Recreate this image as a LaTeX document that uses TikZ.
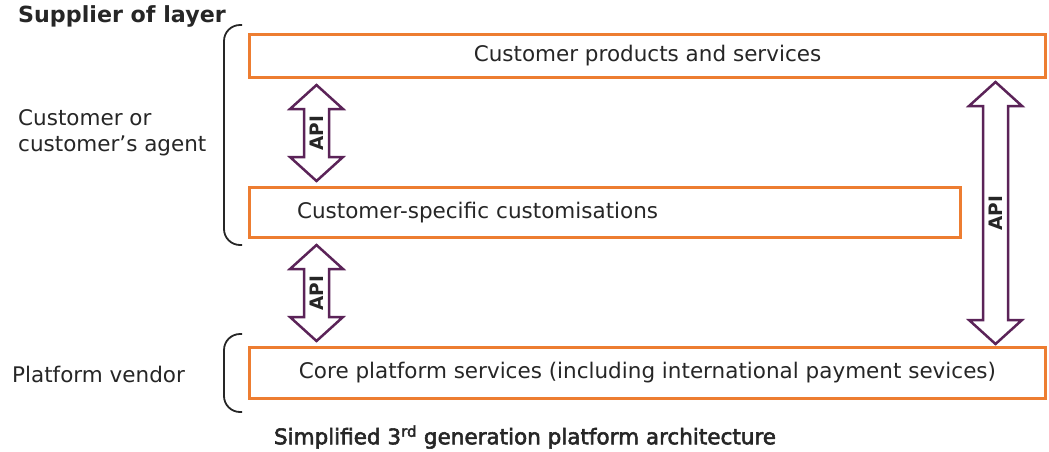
\documentclass[tikz,border=0pt]{standalone}
\usepackage{fontspec}
\setmainfont{DejaVu Sans}
\newfontfamily\semibfont[FakeBold=2.5]{DejaVu Sans}
\usetikzlibrary{calc}
\definecolor{boxorange}{RGB}{237,125,49}
\definecolor{apipurple}{RGB}{91,35,88}
\definecolor{txtgray}{RGB}{38,38,38}
\newcommand{\bodyfont}{\fontsize{21.5}{26}\selectfont}
\tikzset{
  layerbox/.style={draw=boxorange, line width=3pt, inner sep=0pt, minimum width=796pt},
  apiarrow/.style={draw=apipurple, line width=2.5pt, line join=miter, fill=white},
  apilabel/.style={rotate=90, font=\fontsize{18.5}{20}\selectfont\bfseries, text=txtgray},
  bracket/.style={draw=txtgray, line width=1.8pt, rounded corners=16pt},
  sidetext/.style={anchor=west, inner sep=0pt, align=left},
}
% 双向箭头 #1 上端, #2 下端
\newcommand{\drawapi}[2]{%
  \draw[apiarrow] (#1) -- ++(26.5,-24) -- ++(-14,0) -- ($(#2)+(12.5,24)$) -- ++(14,0)
    -- (#2) -- ++(-26.5,24) -- ++(14,0) -- ($(#1)+(-12.5,-24)$) -- ++(-14,0) -- cycle;
  \path (#1) -- (#2) node[midway, apilabel] {API};
}

\begin{document}
\begin{tikzpicture}[x=1pt, y=1pt, font=\bodyfont, text=txtgray]
    \useasboundingbox (0,0) rectangle (1049,-451);

    % 各层
    \node[layerbox, minimum height=43pt] (cps) at (647.5,-56) {Customer products and services};
    \node[layerbox, minimum width=711pt, minimum height=50pt, text width=616pt, align=left] (ccs) at (605,-212.5) {Customer-specific customisations};
    \node[layerbox, minimum height=51pt] (core) at (647.5,-373) {Core platform services (including international payment sevices)};

    % API 箭头
    \coordinate (a1t) at ($(cps.south west)+(68.5,-6)$);
    \coordinate (a1b) at ($(ccs.north west)+(68.5,5)$);
    \coordinate (a2t) at ($(ccs.south west)+(68.5,-6)$);
    \coordinate (a2b) at ($(core.north west)+(68.5,5)$);
    \coordinate (a3t) at ($(cps.south east)+(-51.5,-3)$);
    \coordinate (a3b) at ($(core.north east)+(-51.5,2)$);
    \drawapi{a1t}{a1b}
    \drawapi{a2t}{a2b}
    \drawapi{a3t}{a3b}

    % 左侧括号
    \draw[bracket] (242,-25) -| (224,-135) |- (242,-245);
    \draw[bracket] (242,-334) -| (224,-372) |- (242,-412);

    % 文字
    \node[sidetext, font=\fontsize{22.2}{26}\selectfont\bfseries] (supplier) at (18,-16) {Supplier of layer};
    \node[sidetext] (agent) at (18,-133) {Customer or\\customer’s agent};
    \node[sidetext] (vendor) at (12,-374) {Platform vendor};
    \node[inner sep=0pt, font=\semibfont\fontsize{21.5}{26}\selectfont] (caption) at (525,-437) {Simplified 3\textsuperscript{rd} generation platform architecture};
\end{tikzpicture}
\end{document}
